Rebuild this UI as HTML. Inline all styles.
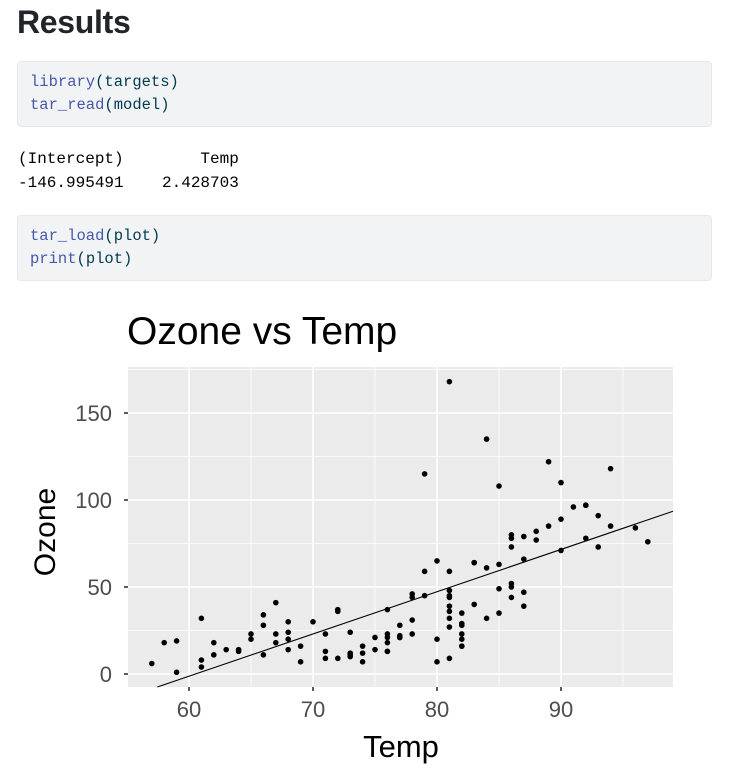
<!DOCTYPE html>
<html><head><meta charset="utf-8">
<style>
body{margin:0;width:754px;height:778px;background:#fff;position:relative;overflow:hidden;font-family:"Liberation Sans",sans-serif}
h2{position:absolute;left:17px;top:4px;margin:0;font-size:32px;font-weight:bold;color:#212529;letter-spacing:-0.3px}
.code{position:absolute;left:17px;width:695px;height:66px;background:#f1f3f5;border-radius:4px;border:1px solid #e6e8ea;box-sizing:border-box}
.code pre,.out{margin:0;font-family:"Liberation Mono",monospace;font-size:15.5px;line-height:23px}
.code pre{position:absolute;left:12px;top:9px;color:#003b4f}
.f{color:#4758ab}
.out{position:absolute;left:18px;top:147px;font-size:16px;line-height:24px;color:#000;white-space:pre}
</style></head><body>
<h2>Results</h2>
<div class="code" style="top:61px"><pre><span class="f">library</span>(targets)
<span class="f">tar_read</span>(model)</pre></div>
<div class="out">(Intercept)        Temp 
-146.995491    2.428703 </div>
<div class="code" style="top:215px"><pre><span class="f">tar_load</span>(plot)
<span class="f">print</span>(plot)</pre></div>
<svg id="s" width="754" height="778" style="position:absolute;left:0;top:0" xmlns="http://www.w3.org/2000/svg">
<text x="127" y="344" font-size="39" font-family="Liberation Sans">Ozone vs Temp</text>
<rect x="128" y="367" width="545" height="320" fill="#ebebeb"/>
<g id="grid"></g>
<g id="pts"></g>
<g fill="#4d4d4d" font-size="22" font-family="Liberation Sans" text-anchor="end">
<text x="112" y="682">0</text><text x="112" y="595">50</text><text x="112" y="508">100</text><text x="112" y="421">150</text>
</g>
<g fill="#4d4d4d" font-size="22" font-family="Liberation Sans" text-anchor="middle">
<text x="189" y="717">60</text><text x="313" y="717">70</text><text x="437" y="717">80</text><text x="561" y="717">90</text>
</g>
<text x="401" y="757" font-size="31" text-anchor="middle" font-family="Liberation Sans">Temp</text>
<text transform="translate(55,532) rotate(-90)" font-size="30" text-anchor="middle" font-family="Liberation Sans">Ozone</text>
</svg>
<script>
var oz="41 36 12 18 NA 28 23 19 8 NA 7 16 11 14 18 14 34 6 30 11 1 11 4 32 NA NA NA 23 45 115 37 NA NA NA NA NA NA 29 NA 71 39 NA NA 23 NA NA 21 37 20 12 13 NA NA NA NA NA NA NA NA NA NA 135 49 32 NA 64 40 77 97 97 85 NA 10 27 NA 7 48 35 61 79 63 16 NA NA 80 108 20 52 82 50 64 59 39 9 16 78 35 66 122 89 110 NA NA 44 28 65 NA 22 59 23 31 44 21 9 NA 45 168 73 NA 76 118 84 85 96 78 73 91 47 32 20 23 21 24 44 21 28 9 13 46 18 13 24 16 13 23 36 7 14 30 NA 14 18 20".split(" ");
var tp="67 72 74 62 56 66 65 59 61 69 74 69 66 68 58 64 66 57 68 62 59 73 61 61 57 58 57 67 81 79 76 78 74 67 84 85 79 82 87 90 87 93 92 82 80 79 77 72 65 73 76 77 76 76 76 75 78 73 80 77 83 84 85 81 84 83 83 88 92 92 89 82 73 81 91 80 81 82 84 87 85 74 81 82 86 85 82 86 88 86 83 81 81 81 82 86 85 87 89 90 90 92 86 86 82 80 79 77 79 76 78 78 77 72 75 79 81 86 88 97 94 96 94 91 92 93 93 87 84 80 78 75 73 81 76 77 71 71 78 67 76 68 82 64 71 81 69 63 70 77 75 76 68".split(" ");
function X(t){return 189+(t-60)*12.4}function Y(o){return 674-o*1.74}
var g="";
[65,75,85,95].forEach(function(t){g+='<line x1="'+X(t)+'" x2="'+X(t)+'" y1="367" y2="687" stroke="#fff" stroke-width="0.8"/>'});
[25,75,125,175].forEach(function(o){g+='<line y1="'+Y(o)+'" y2="'+Y(o)+'" x1="128" x2="673" stroke="#fff" stroke-width="0.8"/>'});
[60,70,80,90].forEach(function(t){g+='<line x1="'+X(t)+'" x2="'+X(t)+'" y1="367" y2="687" stroke="#fff" stroke-width="1.6"/><line x1="'+X(t)+'" x2="'+X(t)+'" y1="687" y2="691" stroke="#333" stroke-width="1.6"/>'});
[0,50,100,150].forEach(function(o){g+='<line y1="'+Y(o)+'" y2="'+Y(o)+'" x1="128" x2="673" stroke="#fff" stroke-width="1.6"/><line y1="'+Y(o)+'" y2="'+Y(o)+'" x1="124" x2="128" stroke="#333" stroke-width="1.6"/>'});
document.getElementById("grid").innerHTML=g;
var p="";for(var i=0;i<oz.length;i++){if(oz[i]!="NA")p+='<circle cx="'+X(+tp[i])+'" cy="'+Y(+oz[i])+'" r="2.8"/>'}
var t0=(-(687-674)/1.74+146.995491)/2.428703,t1=(673-189)/12.4+60;
p+='<line x1="'+X(t0)+'" y1="687" x2="673" y2="'+Y(-146.995491+2.428703*t1)+'" stroke="#000" stroke-width="1.1"/>';
document.getElementById("pts").innerHTML=p;
</script>
</body></html>
